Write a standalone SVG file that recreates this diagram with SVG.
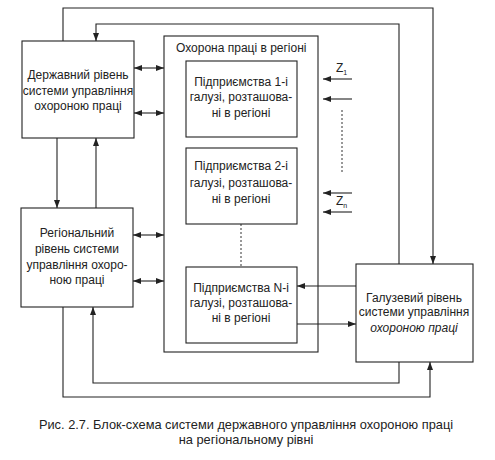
<svg xmlns="http://www.w3.org/2000/svg" width="495" height="460" viewBox="0 0 495 460">
<style>
.box{fill:none;stroke:#222;stroke-width:1.1}
.ln{fill:none;stroke:#222;stroke-width:1.1}
.dot{fill:none;stroke:#333;stroke-width:1;stroke-dasharray:2 2}
text{font-family:"Liberation Sans",Arial,sans-serif;font-size:12px;fill:#222}
.c{text-anchor:middle}
.cap{font-size:12.8px}
</style>
<defs>
<marker id="ah" markerUnits="userSpaceOnUse" markerWidth="8" markerHeight="6" refX="8" refY="3" orient="auto-start-reverse">
<path d="M0,0 L8,3 L0,6 z" fill="#222"/>
</marker>
</defs>
<rect width="495" height="460" fill="#fff"/>

<g id="connectors">
<line class="ln" x1="134" y1="68" x2="164" y2="68" marker-start="url(#ah)" marker-end="url(#ah)"/>
<line class="ln" x1="134" y1="113" x2="164" y2="113" marker-start="url(#ah)" marker-end="url(#ah)"/>
<line class="ln" x1="133" y1="235" x2="164" y2="235" marker-start="url(#ah)" marker-end="url(#ah)"/>
<line class="ln" x1="133" y1="281" x2="164" y2="281" marker-start="url(#ah)" marker-end="url(#ah)"/>
<line class="ln" x1="57" y1="138" x2="57" y2="208" marker-end="url(#ah)"/>
<line class="ln" x1="96" y1="208" x2="96" y2="138" marker-end="url(#ah)"/>
<polyline class="ln" points="63,41 63,8 433,8 433,264" marker-end="url(#ah)"/>
<polyline class="ln" points="399,264 399,24 96,24 96,41" marker-end="url(#ah)"/>
<polyline class="ln" points="63,307 63,397 430,397 430,362" marker-end="url(#ah)"/>
<polyline class="ln" points="399,362 399,383 93,383 93,307" marker-end="url(#ah)"/>
<line class="ln" x1="356" y1="286" x2="297" y2="286" marker-end="url(#ah)"/>
<line class="ln" x1="297" y1="324" x2="356" y2="324" marker-end="url(#ah)"/>
<line class="ln" x1="352" y1="79" x2="323" y2="79" marker-end="url(#ah)"/>
<line class="ln" x1="352" y1="99" x2="323" y2="99" marker-end="url(#ah)"/>
<line class="ln" x1="352" y1="193" x2="323" y2="193" marker-end="url(#ah)"/>
<line class="ln" x1="352" y1="212" x2="323" y2="212" marker-end="url(#ah)"/>
<line class="dot" x1="342" y1="110" x2="342" y2="174"/>
<line class="dot" x1="241" y1="224" x2="241" y2="267"/>
<text x="336" y="72">Z<tspan font-size="7" dy="3">1</tspan></text>
<text x="336" y="205">Z<tspan font-size="7" dy="3">n</tspan></text>
</g>

<g id="state">
<rect class="box" x="22" y="41" width="112" height="97"/>
<text class="c" x="78" y="79">Державний рівень</text>
<text class="c" x="78" y="95">системи управління</text>
<text class="c" x="78" y="110">охороною праці</text>
</g>

<g id="regional">
<rect class="box" x="21" y="208" width="112" height="99"/>
<text class="c" x="77" y="237">Регіональний</text>
<text class="c" x="77" y="253">рівень системи</text>
<text class="c" x="77" y="269">управління охоро-</text>
<text class="c" x="77" y="284">ною праці</text>
</g>

<g id="region">
<rect class="box" x="164" y="36" width="154" height="316"/>
<text x="176" y="52">Охорона праці в регіоні</text>
</g>

<g id="ent1">
<rect class="box" x="186" y="61" width="111" height="76"/>
<text class="c" x="241" y="86">Підприємства 1-і</text>
<text class="c" x="241" y="101">галузі, розташова-</text>
<text class="c" x="241" y="117">ні в регіоні</text>
</g>

<g id="ent2">
<rect class="box" x="186" y="148" width="111" height="76"/>
<text class="c" x="241" y="170">Підприємства 2-і</text>
<text class="c" x="241" y="187">галузі, розташова-</text>
<text class="c" x="241" y="203">ні в регіоні</text>
</g>

<g id="entN">
<rect class="box" x="186" y="267" width="111" height="76"/>
<text class="c" x="241" y="292">Підприємства N-і</text>
<text class="c" x="241" y="307">галузі, розташова-</text>
<text class="c" x="241" y="322">ні в регіоні</text>
</g>

<g id="branch">
<rect class="box" x="356" y="264" width="117" height="98"/>
<text class="c" x="414" y="302">Галузевий рівень</text>
<text class="c" x="414" y="316">системи управління</text>
<text class="c" x="414" y="332" font-style="italic">охороною праці</text>
</g>

<g id="caption">
<text class="c cap" x="246" y="429">Рис. 2.7. Блок-схема системи державного управління охороною праці</text>
<text class="c cap" x="246" y="444">на регіональному рівні</text>
</g>
</svg>
